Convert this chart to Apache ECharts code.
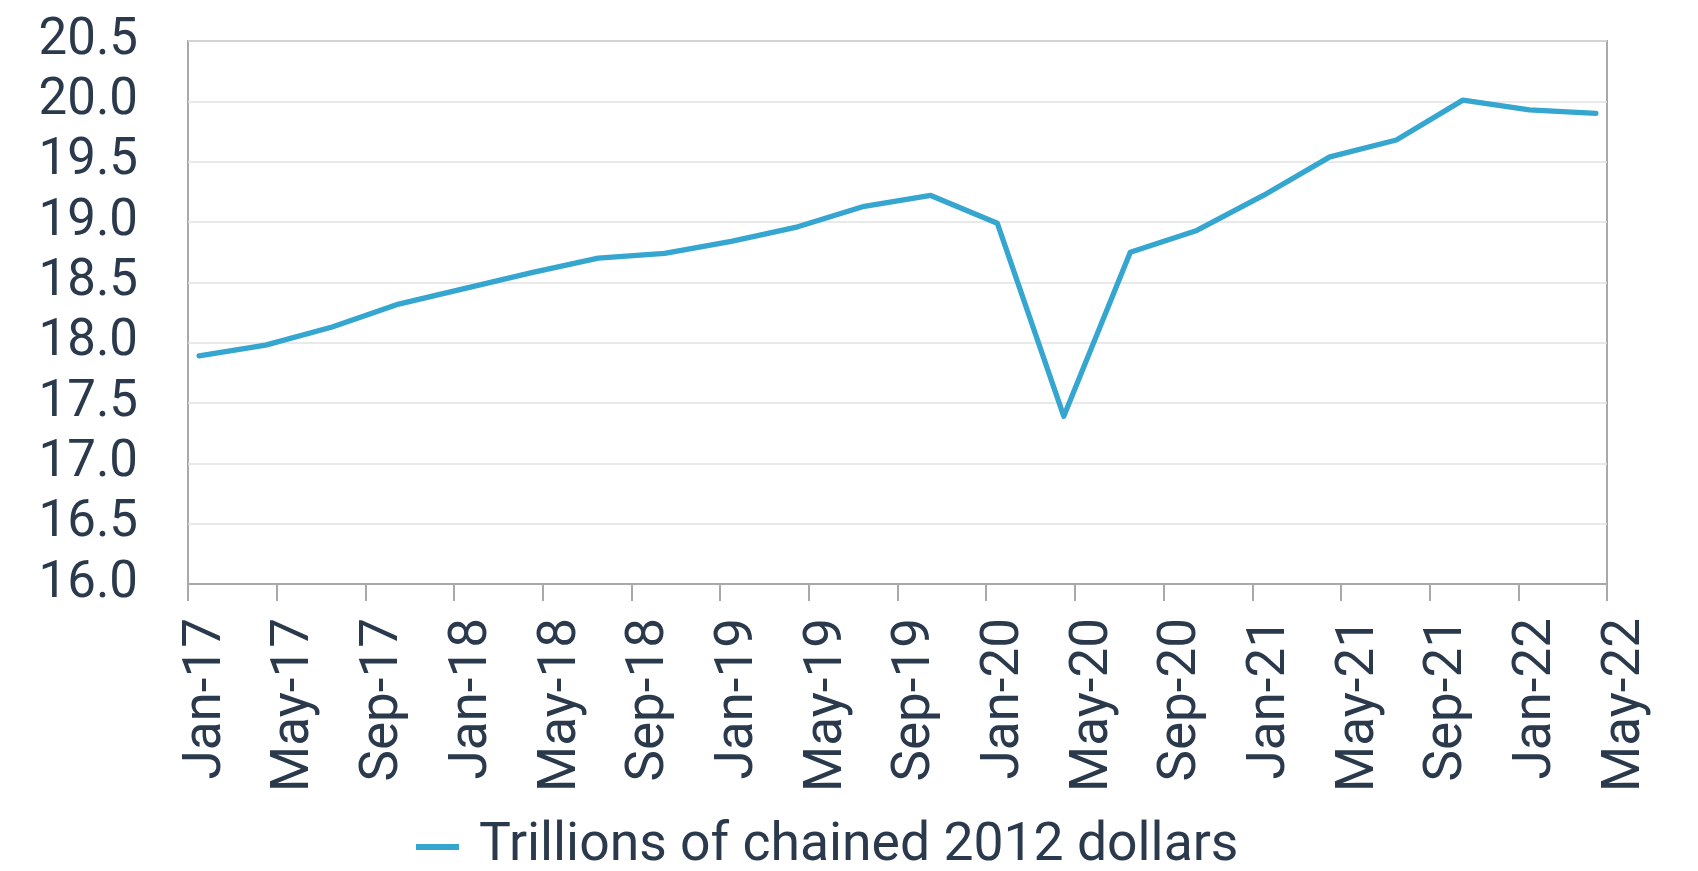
<!DOCTYPE html>
<html>
<head>
<meta charset="utf-8">
<title>Real GDP</title>
<script src="https://cdn.jsdelivr.net/npm/echarts@6/dist/echarts.min.js"></script>
<style>
  html, body { margin: 0; padding: 0; background: #ffffff; }
  #chart { width: 1698px; height: 871px; }
</style>
</head>
<body>
<div id="chart"></div>
<script>
// Quarterly real GDP, trillions of chained 2012 dollars
const quarters = [
  '2017-01', '2017-04', '2017-07', '2017-10',
  '2018-01', '2018-04', '2018-07', '2018-10',
  '2019-01', '2019-04', '2019-07', '2019-10',
  '2020-01', '2020-04', '2020-07', '2020-10',
  '2021-01', '2021-04', '2021-07', '2021-10',
  '2022-01', '2022-04'
];
const gdpValues = [
  17.89, 17.98, 18.13, 18.32,
  18.45, 18.58, 18.70, 18.74,
  18.84, 18.96, 19.13, 19.22,
  18.99, 17.39, 18.75, 18.93,
  19.22, 19.54, 19.68, 20.01,
  19.93, 19.90
];
// Date axis labels, one every four months starting Jan 2017
const xTickLabels = [
  'Jan-17', 'May-17', 'Sep-17', 'Jan-18', 'May-18', 'Sep-18',
  'Jan-19', 'May-19', 'Sep-19', 'Jan-20', 'May-20', 'Sep-20',
  'Jan-21', 'May-21', 'Sep-21', 'Jan-22', 'May-22'
];
const yTickLabels = ['16.0', '16.5', '17.0', '17.5', '18.0', '18.5', '19.0', '19.5', '20.0', '20.5'];
const seriesName = 'Trillions of chained 2012 dollars';

// Months elapsed since Jan 2017; each quarter is plotted mid-month
function monthOffset(q) {
  const [y, m] = q.split('-').map(Number);
  return (y - 2017) * 12 + (m - 1) + 0.5;
}
const points = quarters.map((q, i) => [monthOffset(q), gdpValues[i]]);

const textColor = '#2a3a4c';
const lineColor = '#35a6cf';
const frameColor = '#a9a9a9';
const font = 'Roboto';

const chart = echarts.init(document.getElementById('chart'), null, { renderer: 'canvas' });
chart.setOption({
  backgroundColor: '#ffffff',
  animation: false,
  grid: {
    left: 188, right: 91, top: 41, bottom: 287,
    containLabel: false,
    outerBoundsMode: 'none',
    show: true,
    borderColor: frameColor,
    borderWidth: 2,
    backgroundColor: '#ffffff'
  },
  legend: {
    left: 416,
    top: 817,
    padding: 0,
    icon: 'rect',
    itemWidth: 43,
    itemHeight: 6,
    textStyle: {
      fontFamily: font,
      fontSize: 53.5,
      color: textColor,
      lineHeight: 60,
      padding: [0, 0, 0, 15]
    },
    data: [seriesName]
  },
  xAxis: {
    type: 'value',
    min: 0,
    max: 64,
    interval: 4,
    axisLine: { show: true, lineStyle: { color: frameColor, width: 2 } },
    axisTick: { show: true, length: 17, lineStyle: { color: frameColor, width: 2 } },
    splitLine: { show: false },
    axisLabel: {
      rotate: 90,
      margin: 34,
      fontFamily: font,
      fontSize: 53,
      color: textColor,
      verticalAlign: 'top',
      lineHeight: 37,
      showMinLabel: true,
      showMaxLabel: true,
      formatter: v => xTickLabels[Math.round(v / 4)] || ''
    }
  },
  yAxis: {
    type: 'value',
    min: 16,
    max: 20.5,
    interval: 0.5,
    axisLine: { show: false },
    axisTick: { show: false },
    splitLine: { show: true, lineStyle: { color: '#e2e2e2', width: 1.5 } },
    axisLabel: {
      margin: 50,
      fontFamily: font,
      fontSize: 51,
      color: textColor,
      formatter: v => yTickLabels[Math.round((v - 16) / 0.5)]
    }
  },
  series: [{
    name: seriesName,
    type: 'line',
    data: points,
    showSymbol: false,
    symbol: 'none',
    color: lineColor,
    lineStyle: { color: lineColor, width: 5.3, cap: 'round', join: 'round' }
  }]
});
</script>
</body>
</html>
